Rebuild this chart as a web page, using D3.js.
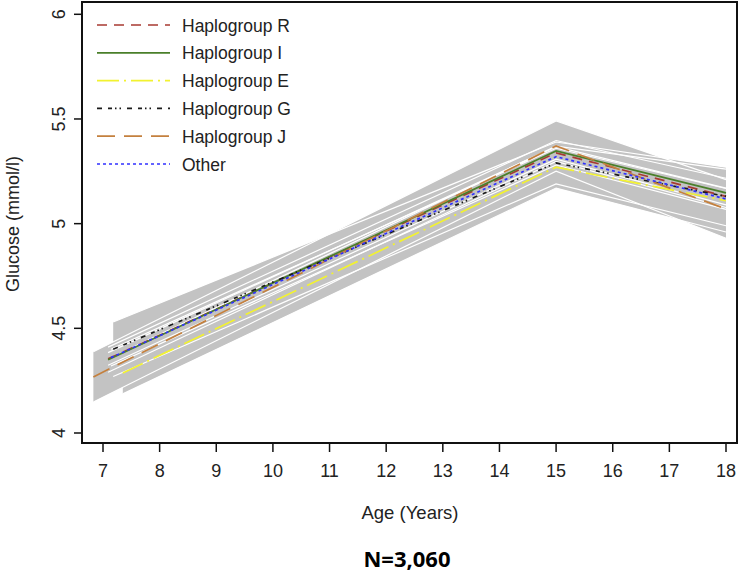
<!DOCTYPE html>
<html>
<head>
<meta charset="utf-8">
<script src="https://cdn.jsdelivr.net/npm/d3@7"></script>
<style>
  body { margin: 0; background: #fff; }
  svg { display: block; font-family: "Liberation Sans", Arial, sans-serif; }
</style>
</head>
<body>
<svg id="chart" width="740" height="575"></svg>
<script>
// group names and trajectory values (linear spline, knot at age 15)
var groups = ["Haplogroup R", "Haplogroup I", "Haplogroup E", "Haplogroup G", "Haplogroup J", "Other"];
var startAge = [7.09, 7.09, 7.35, 7.18, 6.83, 7.14];
var endAge   = [18, 18, 18, 18, 18, 18];
var meanStart = [4.354, 4.350, 4.287, 4.400, 4.268, 4.360];
var meanPeak  = [5.338, 5.347, 5.270, 5.290, 5.371, 5.320];
var meanEnd   = [5.130, 5.147, 5.110, 5.130, 5.070, 5.118];
// 95% CI half widths at start, 15 and end
var ciStart = [0.03, 0.06, 0.10, 0.13, 0.12, 0.04];
var ciPeak  = [0.03, 0.05, 0.10, 0.10, 0.12, 0.04];
var ciEnd   = [0.04, 0.07, 0.15, 0.14, 0.14, 0.05];

var xTicks = [7, 8, 9, 10, 11, 12, 13, 14, 15, 16, 17, 18];
var yTicks = [4, 4.5, 5, 5.5, 6];

var colors = ["#a83a32", "#4a7f2a", "#f2f230", "#1a1a1a", "#c4803e", "#3030ff"];
var dashes = ["10,7", null, "22,5,2,5", "5,6,4,3,1.5,3,1.5,6", "18,9", "3,3"];

var svg = d3.select("#chart");

var x = d3.scaleLinear().domain([7, 18]).range([103, 726]);
var y = d3.scaleLinear().domain([4, 6]).range([433, 14.3]);

// build the 3 knot points for each group
var series = groups.map(function (g, i) {
    return {
        name: g,
        pts: [
            { a: startAge[i], m: meanStart[i], lo: meanStart[i] - ciStart[i], hi: meanStart[i] + ciStart[i] },
            { a: 15, m: meanPeak[i], lo: meanPeak[i] - ciPeak[i], hi: meanPeak[i] + ciPeak[i] },
            { a: endAge[i], m: meanEnd[i], lo: meanEnd[i] - ciEnd[i], hi: meanEnd[i] + ciEnd[i] }
        ]
    };
});

var area = d3.area()
    .x(function (d) { return x(d.a); })
    .y0(function (d) { return y(d.lo); })
    .y1(function (d) { return y(d.hi); });

var line = d3.line()
    .x(function (d) { return x(d.a); })
    .y(function (d) { return y(d.m); });
var loLine = d3.line()
    .x(function (d) { return x(d.a); })
    .y(function (d) { return y(d.lo); });
var hiLine = d3.line()
    .x(function (d) { return x(d.a); })
    .y(function (d) { return y(d.hi); });

// CI fills first, then their white upper/lower borders
svg.append("g").selectAll("path")
    .data(series).enter()
    .append("path")
    .attr("d", function (d) { return area(d.pts); })
    .attr("fill", "#c3c3c3");

var borders = svg.append("g")
    .attr("fill", "none")
    .attr("stroke", "#fff")
    .attr("stroke-width", 1.2);
borders.selectAll("path.lo")
    .data(series).enter()
    .append("path").attr("class", "lo")
    .attr("d", function (d) { return loLine(d.pts); });
borders.selectAll("path.hi")
    .data(series).enter()
    .append("path").attr("class", "hi")
    .attr("d", function (d) { return hiLine(d.pts); });

// mean trajectories
svg.append("g").selectAll("path")
    .data(series).enter()
    .append("path")
    .attr("d", function (d) { return line(d.pts); })
    .attr("fill", "none")
    .attr("stroke", function (d, i) { return colors[i]; })
    .attr("stroke-width", 1.7)
    .attr("stroke-dasharray", function (d, i) { return dashes[i]; });

// frame
svg.append("rect")
    .attr("x", 82).attr("y", 2)
    .attr("width", 655).attr("height", 441)
    .attr("fill", "none")
    .attr("stroke", "#111")
    .attr("stroke-width", 2);

// y axis ticks (labels rotated)
var yAxis = svg.append("g");
yAxis.selectAll("line")
    .data(yTicks).enter()
    .append("line")
    .attr("x1", 74).attr("x2", 82)
    .attr("y1", function (d) { return y(d); })
    .attr("y2", function (d) { return y(d); })
    .attr("stroke", "#111").attr("stroke-width", 1.5);
yAxis.selectAll("text")
    .data(yTicks).enter()
    .append("text")
    .attr("transform", function (d) { return "translate(65," + y(d) + ") rotate(-90)"; })
    .attr("text-anchor", "middle")
    .attr("font-size", 18)
    .attr("fill", "#222")
    .text(function (d) { return String(d); });

// x axis ticks
var xAxis = svg.append("g");
xAxis.selectAll("line")
    .data(xTicks).enter()
    .append("line")
    .attr("x1", function (d) { return x(d); })
    .attr("x2", function (d) { return x(d); })
    .attr("y1", 443).attr("y2", 452)
    .attr("stroke", "#111").attr("stroke-width", 1.5);
xAxis.selectAll("text")
    .data(xTicks).enter()
    .append("text")
    .attr("x", function (d) { return x(d); })
    .attr("y", 477)
    .attr("text-anchor", "middle")
    .attr("font-size", 18)
    .attr("fill", "#222")
    .text(function (d) { return d; });

// axis titles
svg.append("text")
    .attr("transform", "translate(19,224) rotate(-90)")
    .attr("text-anchor", "middle")
    .attr("font-size", 18)
    .attr("fill", "#222")
    .text("Glucose (mmol/l)");

svg.append("text")
    .attr("x", 410).attr("y", 519)
    .attr("text-anchor", "middle")
    .attr("font-size", 18.5)
    .attr("fill", "#222")
    .text("Age (Years)");

svg.append("text")
    .attr("x", 407).attr("y", 567)
    .attr("text-anchor", "middle")
    .attr("font-family", "'Open Sans', sans-serif")
    .attr("font-weight", "bold")
    .attr("font-size", 22)
    .attr("fill", "#000")
    .text("N=3,060");

// legend
var legend = svg.append("g").selectAll("g")
    .data(groups).enter()
    .append("g")
    .attr("transform", function (d, i) { return "translate(0," + (25 + i * 27.8) + ")"; });
legend.append("line")
    .attr("x1", 97).attr("x2", 170)
    .attr("stroke", function (d, i) { return colors[i]; })
    .attr("stroke-width", 1.7)
    .attr("stroke-dasharray", function (d, i) { return dashes[i]; });
legend.append("text")
    .attr("x", 182).attr("y", 6.5)
    .attr("font-size", 17.5)
    .attr("fill", "#222")
    .text(function (d) { return d; });
</script>
</body>
</html>
